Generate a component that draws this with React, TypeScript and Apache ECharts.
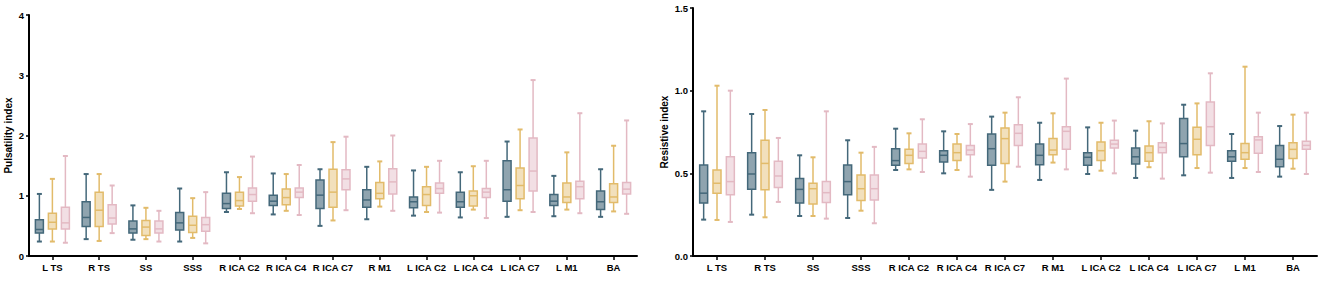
import React, { useEffect, useRef } from "react";
import * as echarts from "echarts";

const categories = ["L TS", "R TS", "SS", "SSS", "R ICA C2", "R ICA C4", "R ICA C7", "R M1", "L ICA C2", "L ICA C4", "L ICA C7", "L M1", "BA"];

// each row: [min, Q1, median, Q3, max]
const piTeal = [
  [0.24, 0.38, 0.44, 0.60, 1.03],
  [0.28, 0.49, 0.64, 0.90, 1.36],
  [0.27, 0.38, 0.45, 0.58, 0.84],
  [0.24, 0.43, 0.55, 0.72, 1.12],
  [0.73, 0.79, 0.87, 1.04, 1.39],
  [0.69, 0.84, 0.91, 1.01, 1.37],
  [0.50, 0.79, 1.01, 1.26, 1.44],
  [0.61, 0.81, 0.93, 1.10, 1.48],
  [0.67, 0.80, 0.90, 0.98, 1.42],
  [0.64, 0.81, 0.90, 1.06, 1.39],
  [0.65, 0.91, 1.10, 1.58, 1.90],
  [0.66, 0.84, 0.91, 1.02, 1.33],
  [0.65, 0.77, 0.90, 1.08, 1.44],
];
const piGold = [
  [0.24, 0.45, 0.56, 0.71, 1.28],
  [0.25, 0.49, 0.76, 1.06, 1.36],
  [0.28, 0.34, 0.48, 0.59, 0.80],
  [0.30, 0.39, 0.51, 0.66, 0.96],
  [0.78, 0.83, 0.92, 1.06, 1.31],
  [0.75, 0.85, 0.97, 1.11, 1.36],
  [0.59, 0.81, 1.06, 1.44, 1.89],
  [0.82, 0.95, 1.04, 1.22, 1.57],
  [0.73, 0.84, 1.02, 1.15, 1.48],
  [0.77, 0.83, 1.00, 1.08, 1.49],
  [0.76, 0.95, 1.17, 1.46, 2.10],
  [0.77, 0.89, 0.98, 1.21, 1.72],
  [0.74, 0.89, 0.98, 1.20, 1.83],
];
const piPink = [
  [0.22, 0.45, 0.55, 0.81, 1.66],
  [0.38, 0.53, 0.63, 0.85, 1.17],
  [0.24, 0.38, 0.45, 0.58, 0.75],
  [0.21, 0.41, 0.52, 0.64, 1.06],
  [0.71, 0.91, 1.02, 1.13, 1.65],
  [0.68, 0.97, 1.06, 1.13, 1.51],
  [0.76, 1.10, 1.28, 1.43, 1.98],
  [0.75, 1.03, 1.23, 1.45, 2.00],
  [0.72, 1.04, 1.12, 1.21, 1.58],
  [0.63, 0.97, 1.06, 1.12, 1.58],
  [0.73, 1.08, 1.41, 1.96, 2.92],
  [0.71, 0.95, 1.15, 1.24, 2.37],
  [0.70, 1.03, 1.11, 1.22, 2.25],
];

const riTeal = [
  [0.22, 0.32, 0.38, 0.55, 0.875],
  [0.25, 0.403, 0.496, 0.625, 0.859],
  [0.242, 0.32, 0.403, 0.468, 0.609],
  [0.23, 0.37, 0.45, 0.55, 0.70],
  [0.52, 0.549, 0.577, 0.649, 0.77],
  [0.50, 0.569, 0.609, 0.637, 0.754],
  [0.40, 0.549, 0.649, 0.738, 0.843],
  [0.46, 0.552, 0.609, 0.677, 0.806],
  [0.496, 0.549, 0.597, 0.625, 0.778],
  [0.472, 0.556, 0.60, 0.653, 0.758],
  [0.488, 0.60, 0.68, 0.831, 0.915],
  [0.472, 0.573, 0.60, 0.637, 0.738],
  [0.48, 0.54, 0.585, 0.669, 0.786],
];
const riGold = [
  [0.218, 0.379, 0.44, 0.52, 1.03],
  [0.234, 0.40, 0.56, 0.70, 0.883],
  [0.242, 0.315, 0.407, 0.44, 0.597],
  [0.274, 0.335, 0.407, 0.49, 0.625],
  [0.524, 0.56, 0.609, 0.645, 0.742],
  [0.52, 0.577, 0.625, 0.677, 0.738],
  [0.45, 0.56, 0.71, 0.774, 0.867],
  [0.565, 0.613, 0.641, 0.71, 0.863],
  [0.516, 0.577, 0.637, 0.69, 0.806],
  [0.537, 0.573, 0.625, 0.665, 0.815],
  [0.532, 0.613, 0.706, 0.778, 0.923],
  [0.532, 0.585, 0.625, 0.681, 1.145],
  [0.528, 0.589, 0.645, 0.685, 0.855],
];
const riPink = [
  [0.206, 0.37, 0.45, 0.60, 1.00],
  [0.327, 0.415, 0.484, 0.573, 0.714],
  [0.226, 0.323, 0.383, 0.45, 0.875],
  [0.198, 0.339, 0.407, 0.49, 0.66],
  [0.508, 0.593, 0.633, 0.677, 0.827],
  [0.48, 0.613, 0.641, 0.669, 0.798],
  [0.54, 0.669, 0.742, 0.794, 0.96],
  [0.524, 0.645, 0.754, 0.782, 1.073],
  [0.50, 0.653, 0.677, 0.70, 0.819],
  [0.468, 0.625, 0.657, 0.685, 0.802],
  [0.504, 0.669, 0.782, 0.931, 1.105],
  [0.508, 0.621, 0.702, 0.722, 0.867],
  [0.496, 0.645, 0.669, 0.694, 0.867],
];

const piTicks = [0, 1, 2, 3, 4];
const riTicks = [0, 0.5, 1.0, 1.5];

const palette = [
  { stroke: "#44687a", fill: "rgba(68,104,122,0.6)" },
  { stroke: "#e2bb6a", fill: "rgba(226,187,106,0.45)" },
  { stroke: "#e3b9c3", fill: "rgba(227,185,195,0.45)" },
];

const FONT = "'Liberation Sans', Arial, sans-serif";

function boxSeries(gridIdx: number, rows: number[][], k: number) {
  const { stroke, fill } = palette[k];
  return {
    type: "custom",
    xAxisIndex: gridIdx,
    yAxisIndex: gridIdx,
    data: rows.map((r, i) => [i, ...r]),
    encode: { x: 0, y: [1, 2, 3, 4, 5] },
    renderItem: (params: any, api: any) => {
      const ci = api.value(0);
      const band = api.size([1, 0])[0];
      const off = (k - 1) * band * 0.278;
      const pts = [1, 2, 3, 4, 5].map((d) => api.coord([ci, api.value(d)]));
      const x = pts[0][0] + off;
      const [yMin, yQ1, yMed, yQ3, yMax] = pts.map((p: number[]) => p[1]);
      const hw = 4;
      const cw = 2.5;
      const ls = { stroke, lineWidth: 1.5, fill: null };
      const cs = { stroke, lineWidth: 2, fill: null };
      return {
        type: "group",
        children: [
          { type: "line", shape: { x1: x, y1: yMax, x2: x, y2: yQ3 }, style: ls },
          { type: "line", shape: { x1: x, y1: yQ1, x2: x, y2: yMin }, style: ls },
          { type: "line", shape: { x1: x - cw, y1: yMax, x2: x + cw, y2: yMax }, style: cs },
          { type: "line", shape: { x1: x - cw, y1: yMin, x2: x + cw, y2: yMin }, style: cs },
          { type: "rect", shape: { x: x - hw, y: yQ3, width: hw * 2, height: yQ1 - yQ3 }, style: { fill, stroke, lineWidth: 1.5 } },
          { type: "line", shape: { x1: x - hw, y1: yMed, x2: x + hw, y2: yMed }, style: ls },
        ],
      };
    },
  };
}

function xAxis(gridIndex: number) {
  return {
    type: "category",
    gridIndex,
    data: categories,
    boundaryGap: true,
    axisLine: { show: true, lineStyle: { color: "#000", width: 2 } },
    axisTick: { show: true, alignWithLabel: true, length: 4, lineStyle: { color: "#000", width: 1.5 } },
    axisLabel: { fontSize: 9.5, fontWeight: "bold", color: "#000", fontFamily: FONT, margin: 6, interval: 0 },
    splitLine: { show: false },
  };
}

function yAxis(gridIndex: number, ticks: number[], name: string, nameGap: number, digits: number) {
  return {
    type: "value",
    gridIndex,
    min: ticks[0],
    max: ticks[ticks.length - 1],
    interval: ticks[1] - ticks[0],
    name,
    nameLocation: "middle",
    nameGap,
    nameTextStyle: { fontSize: 10, fontWeight: "bold", color: "#000", fontFamily: FONT },
    axisLine: { show: true, lineStyle: { color: "#000", width: 2 } },
    axisTick: { show: true, length: 3, lineStyle: { color: "#000", width: 1.5 } },
    axisLabel: {
      fontSize: 9.5,
      fontWeight: "bold",
      color: "#000",
      fontFamily: FONT,
      margin: 5,
      formatter: (v: number) => v.toFixed(digits),
    },
    splitLine: { show: false },
  };
}

export default function App() {
  const ref = useRef<HTMLDivElement>(null);
  useEffect(() => {
    if (!ref.current) return;
    const chart = echarts.init(ref.current, undefined, { renderer: "svg" });
    chart.setOption({
      animation: false,
      backgroundColor: "#fff",
      grid: [
        { left: 29, top: 15, width: 608, height: 241 },
        { left: 693, top: 8, width: 624, height: 248 },
      ],
      xAxis: [xAxis(0), xAxis(1)],
      yAxis: [
        yAxis(0, piTicks, "Pulsatility index", 16, 0),
        yAxis(1, riTicks, "Resistive index", 24, 1),
      ],
      series: [
        boxSeries(0, piTeal, 0),
        boxSeries(0, piGold, 1),
        boxSeries(0, piPink, 2),
        boxSeries(1, riTeal, 0),
        boxSeries(1, riGold, 1),
        boxSeries(1, riPink, 2),
      ],
    });
    return () => chart.dispose();
  }, []);
  return <div ref={ref} style={{ position: "absolute", left: 0, top: 0, width: 1325, height: 282 }} />;
}
